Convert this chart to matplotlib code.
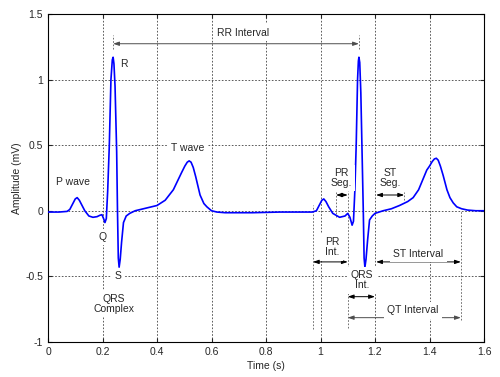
import matplotlib
matplotlib.use("Agg")
import matplotlib.pyplot as plt

plt.rcParams['font.family'] = ['Liberation Sans', 'DejaVu Sans']

# ECG trace, two beats (time in s, amplitude in mV)
t = [0.0, 0.04, 0.07, 0.08, 0.09, 0.10, 0.107, 0.115, 0.125, 0.135, 0.15, 0.165,
     0.18, 0.19, 0.198, 0.204, 0.209, 0.214, 0.219, 0.225, 0.231, 0.236, 0.239,
     0.242, 0.246, 0.252, 0.255, 0.258, 0.261, 0.265, 0.27, 0.277, 0.287, 0.30,
     0.32, 0.35, 0.38, 0.40, 0.43, 0.46, 0.49, 0.502, 0.511, 0.518, 0.525, 0.533,
     0.542, 0.558, 0.572, 0.583, 0.60, 0.62, 0.65, 0.75, 0.85, 0.95,
     0.97, 0.985, 0.995, 1.005, 1.012, 1.02, 1.03, 1.045, 1.07, 1.09, 1.10,
     1.108, 1.116, 1.121, 1.126, 1.131, 1.136, 1.139, 1.141, 1.144, 1.148,
     1.153, 1.157, 1.160, 1.163, 1.167, 1.173, 1.18, 1.19, 1.20, 1.23, 1.26,
     1.29, 1.32, 1.34, 1.36, 1.376, 1.39, 1.40, 1.41, 1.418, 1.425, 1.432,
     1.44, 1.45, 1.464, 1.475, 1.487, 1.50, 1.518, 1.54, 1.57, 1.60]
amp = [-0.01, -0.01, -0.005, 0.01, 0.05, 0.09, 0.10, 0.08, 0.04, 0.0, -0.04, -0.05,
       -0.045, -0.035, -0.03, -0.06, -0.09, -0.06, 0.15, 0.5, 1.0, 1.15, 1.17,
       1.12, 0.95, 0.45, 0.0, -0.36, -0.43, -0.37, -0.24, -0.09, -0.04, -0.02,
       0.0, 0.015, 0.03, 0.04, 0.08, 0.16, 0.29, 0.34, 0.37, 0.38, 0.37, 0.33,
       0.26, 0.12, 0.055, 0.03, 0.0, -0.01, -0.015, -0.015, -0.01, -0.01,
       -0.01, 0.0, 0.04, 0.08, 0.09, 0.07, 0.03, -0.02, -0.05, -0.04, -0.02,
       -0.05, -0.11, -0.08, 0.15, 0.5, 1.0, 1.14, 1.17, 1.13, 0.9, 0.4, 0.0,
       -0.36, -0.43, -0.37, -0.22, -0.07, -0.04, -0.02, 0.0, 0.015, 0.04, 0.07,
       0.1, 0.16, 0.24, 0.31, 0.34, 0.375, 0.395, 0.40, 0.385, 0.34, 0.27,
       0.16, 0.10, 0.06, 0.03, 0.015, 0.005, 0.0, 0.0]

# text labels: (x, y, text)
labels = [(0.09, 0.22, "P wave"), (0.28, 1.12, "R"), (0.514, 0.48, "T wave"),
          (0.202, -0.2, "Q"), (0.257, -0.5, "S"), (0.243, -0.71, "QRS\nComplex"),
          (1.075, 0.25, "PR\nSeg."), (1.255, 0.25, "ST\nSeg."),
          (1.042, -0.28, "PR\nInt."), (1.358, -0.33, "ST Interval"),
          (1.152, -0.53, "QRS\nInt."), (1.34, -0.76, "QT Interval"),
          (0.716, 1.357, "RR Interval")]

# interval arrows: (x start, x end, y)
arrows = [(0.239, 1.141, 1.273), (1.057, 1.10, 0.12), (1.204, 1.307, 0.12),
          (0.972, 1.10, -0.39), (1.204, 1.515, -0.39), (1.10, 1.20, -0.655),
          (1.10, 1.515, -0.815)]
arrow_col = ['0.3', 'k', 'k', 'k', 'k', 'k', '0.3']

# dashed guide lines: (x, y low, y high)
guides = [(0.239, 1.23, 1.34), (1.141, 1.23, 1.34), (1.057, -0.05, 0.14),
          (1.307, 0.08, 0.14), (0.972, -0.9, 0.04), (1.10, -0.89, 0.15),
          (1.515, -0.83, 0.0)]

fig = plt.figure(figsize=(5, 3.77), dpi=100)
ax = fig.add_axes([0.096, 0.093, 0.872, 0.87])

ax.set_xlim(0, 1.6)
ax.set_ylim(-1, 1.5)
ax.set_xticks([0, 0.2, 0.4, 0.6, 0.8, 1, 1.2, 1.4, 1.6])
ax.set_xticklabels(["0", "0.2", "0.4", "0.6", "0.8", "1", "1.2", "1.4", "1.6"])
ax.set_yticks([-1, -0.5, 0, 0.5, 1, 1.5])
ax.set_yticklabels(["-1", "-0.5", "0", "0.5", "1", "1.5"])
ax.grid(True, color='0.25', linestyle=(0, (2, 2)), linewidth=0.6)
ax.tick_params(direction='in', length=3, labelsize=7.5, colors='0.15',
               top=True, right=True)
for s in ax.spines.values():
    s.set_linewidth(0.8)

for x, y0, y1 in guides:
    ax.plot([x, x], [y0, y1], color='0.35', linestyle=(0, (2, 2)), linewidth=0.6)

ax.plot(t, amp, color='#0000ff', linewidth=1.2, zorder=3)

for (x0, x1, y), c in zip(arrows, arrow_col):
    ax.annotate("", xy=(x1, y), xytext=(x0, y),
                arrowprops=dict(arrowstyle='<|-|>,head_length=0.35,head_width=0.12',
                                color=c, lw=0.7, shrinkA=0, shrinkB=0))

for x, y, s in labels:
    ax.text(x, y, s, fontsize=7.5, color='0.15', ha='center', va='center',
            linespacing=1.0,
            bbox=dict(facecolor='white', edgecolor='none', pad=2.5), zorder=4)

ax.set_xlabel("Time (s)", fontsize=7.5, color='0.15', labelpad=3)
ax.set_ylabel("Amplitude (mV)", fontsize=7.5, color='0.15', labelpad=2)

fig.savefig("out.png", dpi=100)
